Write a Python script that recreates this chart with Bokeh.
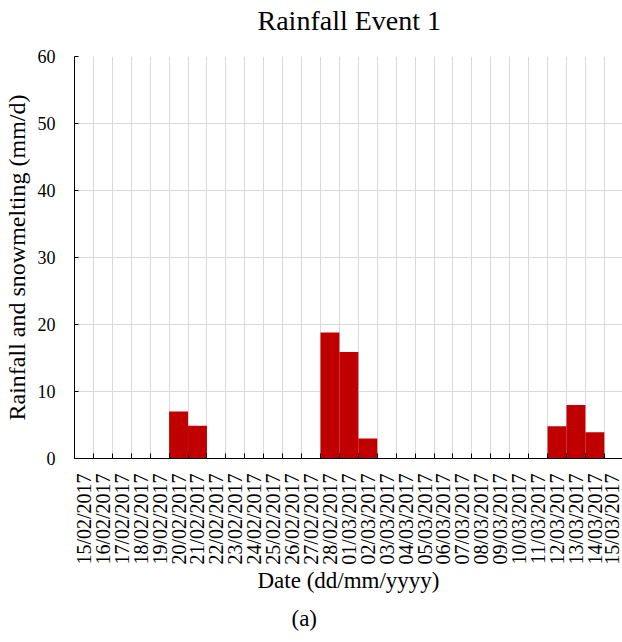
import math
from bokeh.plotting import figure
from bokeh.models import Range1d, FixedTicker, LinearAxis, Title, ColumnDataSource, Grid
from bokeh.embed import file_html
from bokeh.resources import INLINE

dates = ["15/02/2017", "16/02/2017", "17/02/2017", "18/02/2017", "19/02/2017",
         "20/02/2017", "21/02/2017", "22/02/2017", "23/02/2017", "24/02/2017",
         "25/02/2017", "26/02/2017", "27/02/2017", "28/02/2017", "01/03/2017",
         "02/03/2017", "03/03/2017", "04/03/2017", "05/03/2017", "06/03/2017",
         "07/03/2017", "08/03/2017", "09/03/2017", "10/03/2017", "11/03/2017",
         "12/03/2017", "13/03/2017", "14/03/2017", "15/03/2017"]
rainfall = [0, 0, 0, 0, 0,
            7.0, 4.9, 0, 0, 0,
            0, 0, 0, 18.8, 15.9,
            3.0, 0, 0, 0, 0,
            0, 0, 0, 0, 0,
            4.8, 8.0, 3.9, 0]
y_ticks = [0, 10, 20, 30, 40, 50, 60]

SERIF = "Liberation Serif"

pos = list(range(len(dates)))
bounds = [i - 0.5 for i in range(len(dates) + 1)]
source = ColumnDataSource(dict(x=pos, top=rainfall))

p = figure(width=622, height=642, output_backend="svg", toolbar_location=None,
           title=None,
           x_range=Range1d(-0.5, 28.46), y_range=Range1d(0, 60),
           x_axis_type=None, y_axis_type=None,
           min_border_left=73, min_border_right=0, min_border_top=56,
           min_border_bottom=184)
p.outline_line_color = None
p.background_fill_color = "white"
p.border_fill_color = "white"

# spacer between frame and title (closest to frame)
spacer = Title(text=" ", text_font=SERIF, text_font_size="10px", standoff=8,
               text_color="white")
p.add_layout(spacer, "above")
main_title = Title(text="Rainfall Event 1", text_font=SERIF, text_font_size="28px",
                   text_font_style="normal", text_color="black", align="left",
                   offset=183, standoff=0)
p.add_layout(main_title, "above")

p.add_layout(Grid(dimension=0, ticker=FixedTicker(ticks=bounds[1:]),
                  grid_line_color="#D9D9D9", grid_line_width=1))
p.add_layout(Grid(dimension=1, ticker=FixedTicker(ticks=y_ticks[1:]),
                  grid_line_color="#D9D9D9", grid_line_width=1))

p.vbar(x="x", top="top", width=1.0, bottom=0, source=source,
       fill_color="#C00000", line_color=None)

xaxis = LinearAxis(
    ticker=FixedTicker(ticks=pos, minor_ticks=bounds),
    major_label_overrides={i: d for i, d in zip(pos, dates)},
    major_label_orientation=math.pi / 2,
    major_tick_line_color=None, major_tick_in=0, major_tick_out=0,
    minor_tick_in=5, minor_tick_out=0, minor_tick_line_color="black",
    axis_line_color="black", axis_line_width=1,
    major_label_text_font=SERIF, major_label_text_font_size="20px",
    major_label_text_color="black", major_label_standoff=15,
    axis_label="Date (dd/mm/yyyy)", axis_label_text_font=SERIF,
    axis_label_text_font_size="23px", axis_label_text_font_style="normal",
    axis_label_text_color="black", axis_label_standoff=0,
)
p.add_layout(xaxis, "below")

cap = Title(text="(a)", align="left", offset=217, text_font=SERIF,
            text_font_size="23px", text_font_style="normal", text_color="black",
            standoff=16)
p.add_layout(cap, "below")

yaxis = LinearAxis(
    ticker=FixedTicker(ticks=y_ticks, minor_ticks=[]),
    major_tick_in=4, major_tick_out=0, major_tick_line_color="black",
    minor_tick_line_color=None,
    axis_line_color="black", axis_line_width=1,
    major_label_text_font=SERIF, major_label_text_font_size="18px",
    major_label_text_color="black", major_label_standoff=19,
    axis_label="Rainfall and snowmelting (mm/d)", axis_label_text_font=SERIF,
    axis_label_text_font_size="24px", axis_label_text_font_style="normal",
    axis_label_text_color="black", axis_label_standoff=5,
)
p.add_layout(yaxis, "left")

open("out.html", "w").write(file_html(p, INLINE))
